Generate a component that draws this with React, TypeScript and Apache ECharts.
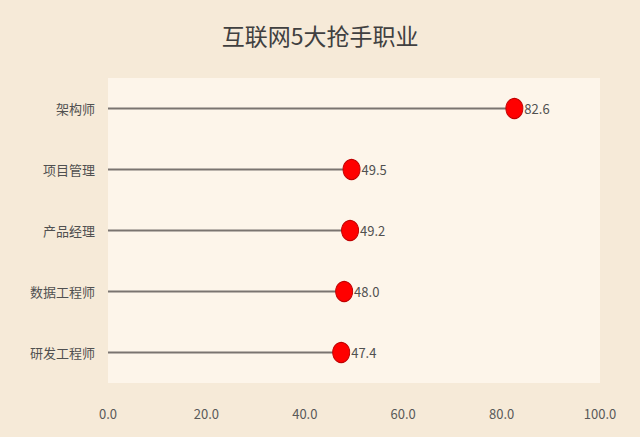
import { useEffect, useRef } from 'react'
import * as echarts from 'echarts'

const categories = ['架构师', '项目管理', '产品经理', '数据工程师', '研发工程师']
const values = [82.6, 49.5, 49.2, 48.0, 47.4]
const xTicks = { min: 0, max: 100, interval: 20 }

const FONT = '"Noto Sans CJK SC", "Noto Sans", sans-serif'

export default function App() {
  const elRef = useRef<HTMLDivElement>(null)

  useEffect(() => {
    document.body.style.margin = '0'
    if (!elRef.current) return
    const chart = echarts.init(elRef.current, undefined, { renderer: 'svg' })
    chart.setOption({
      animation: false,
      backgroundColor: '#f6ead8',
      textStyle: { fontFamily: FONT },
      title: {
        text: '互联网5大抢手职业',
        left: 'center',
        top: 18,
        textStyle: { fontSize: 23, fontWeight: 'normal', color: '#404040', fontFamily: FONT },
      },
      grid: {
        left: 108,
        right: 40,
        top: 78,
        bottom: 54,
        show: true,
        backgroundColor: '#fdf5ea',
        borderWidth: 0,
      },
      xAxis: {
        type: 'value',
        min: xTicks.min,
        max: xTicks.max,
        interval: xTicks.interval,
        axisLine: { show: false },
        axisTick: { show: false },
        splitLine: { show: false },
        axisLabel: {
          color: '#595959',
          fontSize: 13,
          margin: 24,
          formatter: (v: number) => v.toFixed(1),
        },
      },
      yAxis: {
        type: 'category',
        data: categories,
        inverse: true,
        axisLine: { show: false },
        axisTick: { show: false },
        axisLabel: { color: '#505050', fontSize: 13, margin: 13 },
      },
      series: [
        {
          type: 'bar',
          data: values,
          barWidth: 2,
          itemStyle: { color: '#7a7470' },
          silent: true,
        },
        {
          type: 'scatter',
          data: values,
          symbol: 'circle',
          symbolSize: [17, 20],
          itemStyle: { color: '#ff0000', opacity: 1, borderColor: '#c00000', borderWidth: 1 },
          label: {
            show: true,
            position: 'right',
            distance: 1,
            color: '#505050',
            fontSize: 13,
            formatter: (p: any) => Number(p.value).toFixed(1),
          },
        },
      ],
    })
    return () => chart.dispose()
  }, [])

  return <div ref={elRef} style={{ width: 640, height: 437 }} />
}
